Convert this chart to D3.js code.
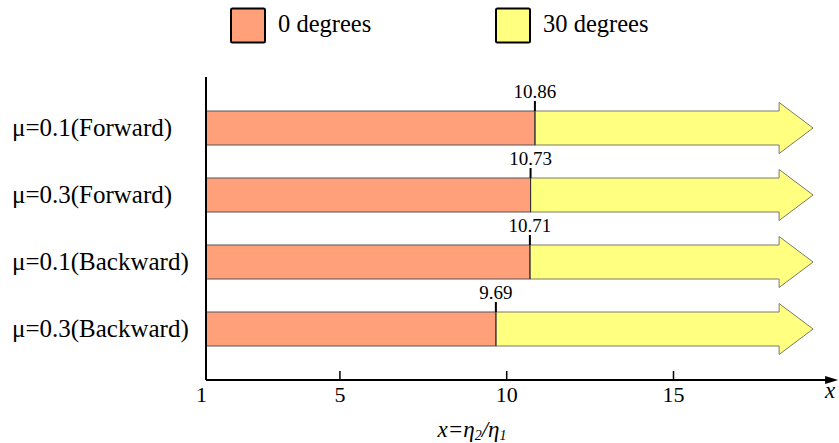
<!DOCTYPE html>
<html>
<head>
<meta charset="utf-8">
<script src="https://cdn.jsdelivr.net/npm/d3@7"></script>
</head>
<body style="margin:0">
<svg id="fig" width="839" height="443"></svg>
<script>
// ---- data ----
const categories = ["μ=0.1(Forward)", "μ=0.3(Forward)", "μ=0.1(Backward)", "μ=0.3(Backward)"];
const transitionValues = [10.86, 10.73, 10.71, 9.69];   // boundary between 0° and 30°
const seriesNames = ["0 degrees", "30 degrees"];
const seriesColors = ["#FFA07A", "#FFFF80"];
const xStart = 1;          // start of bars / axis
const arrowTipValue = 19.2; // tip of the 30-degree arrow
const axisEndValue = 19.95;
const tickValues = [1, 5, 10, 15];

const FONT = "'Liberation Serif'";

// ---- layout ----
const svg = d3.select("#fig");
const x = d3.scaleLinear().domain([1, 15]).range([206, 673]);
const y = d3.scalePoint().domain(categories).range([128, 329]);
const barH = 34;
const headLen = 34;
const headOver = 8.5;
const axisY = 380;
const axisTop = 77;

function txt(sel) { return sel.style("font-family", FONT); }

// legend
const legendX = [231, 496];
seriesNames.forEach((s, i) => {
  svg.append("rect")
    .attr("x", legendX[i]).attr("y", 8.5)
    .attr("width", 34).attr("height", 34)
    .attr("rx", 1.5)
    .attr("fill", seriesColors[i])
    .attr("stroke", "#000").attr("stroke-width", 2);
  txt(svg.append("text"))
    .attr("x", legendX[i] + 47).attr("y", 32)
    .attr("font-size", 24.5)
    .text(s);
});

// bars
categories.forEach((c, i) => {
  const cy = y(c);
  const v = transitionValues[i];
  const x0 = x(xStart), xv = x(v), xt = x(arrowTipValue);
  const xb = xt - headLen;
  const pts = [
    [xv, cy - barH / 2], [xb, cy - barH / 2], [xb, cy - barH / 2 - headOver],
    [xt, cy], [xb, cy + barH / 2 + headOver], [xb, cy + barH / 2], [xv, cy + barH / 2]
  ];
  svg.append("path")
    .attr("d", d3.line()(pts) + "Z")
    .attr("fill", seriesColors[1])
    .attr("stroke", "#7a7a6a")
    .attr("stroke-width", 1);
  svg.append("rect")
    .attr("x", x0).attr("y", cy - barH / 2)
    .attr("width", xv - x0).attr("height", barH)
    .attr("fill", seriesColors[0])
    .attr("stroke", "#555").attr("stroke-width", 1);
  svg.append("line")
    .attr("x1", xv).attr("x2", xv)
    .attr("y1", cy - barH / 2).attr("y2", cy + barH / 2)
    .attr("stroke", "#333").attr("stroke-width", 1);
  svg.append("line")
    .attr("x1", xv).attr("x2", xv)
    .attr("y1", cy - barH / 2 - 10).attr("y2", cy - barH / 2)
    .attr("stroke", "#000").attr("stroke-width", 2);
  txt(svg.append("text"))
    .attr("x", xv).attr("y", cy - barH / 2 - 13.5)
    .attr("text-anchor", "middle")
    .attr("font-size", 19)
    .text(v.toFixed(2));
  txt(svg.append("text"))
    .attr("x", 12).attr("y", cy + 8)
    .attr("font-size", 25)
    .text(c);
});

// y axis line
svg.append("line")
  .attr("x1", x(1)).attr("x2", x(1))
  .attr("y1", axisTop).attr("y2", axisY)
  .attr("stroke", "#000").attr("stroke-width", 2);

// x axis
const xAxis = d3.axisBottom(x).tickValues(tickValues).tickSize(0).tickFormat(d3.format("d"));
const gx = svg.append("g").attr("transform", `translate(0,${axisY})`).call(xAxis);
gx.attr("font-family", null).attr("font-size", null);
gx.select(".domain").remove();
txt(gx.selectAll("text"))
  .attr("font-size", 22)
  .attr("fill", "#000")
  .attr("dy", null)
  .attr("y", 22);
gx.selectAll(".tick")
  .filter(d => d === 1)
  .select("text").attr("dx", -5);
gx.selectAll(".tick")
  .filter(d => d !== 1)
  .append("line")
  .attr("y1", -9).attr("y2", 0)
  .attr("stroke", "#000").attr("stroke-width", 1.5);

svg.append("line")
  .attr("x1", x(1)).attr("x2", x(axisEndValue) - 8)
  .attr("y1", axisY).attr("y2", axisY)
  .attr("stroke", "#000").attr("stroke-width", 2);
svg.append("path")
  .attr("d", d3.line()([[x(axisEndValue) - 13, axisY - 4], [x(axisEndValue), axisY], [x(axisEndValue) - 13, axisY + 4]]) + "Z")
  .attr("fill", "#000");
txt(svg.append("text"))
  .attr("x", 830).attr("y", 398)
  .attr("text-anchor", "middle")
  .attr("font-size", 23).attr("font-style", "italic")
  .text("x");

// axis title x=η2/η1
const title = txt(svg.append("text"))
  .attr("x", 472).attr("y", 437)
  .attr("text-anchor", "middle")
  .attr("font-size", 23).attr("font-style", "italic");
title.append("tspan").text("x=η");
title.append("tspan").attr("font-size", 14).attr("dy", 3).text("2");
title.append("tspan").attr("dy", -3).text("/η");
title.append("tspan").attr("font-size", 14).attr("dy", 3).text("1");
</script>
</body>
</html>
